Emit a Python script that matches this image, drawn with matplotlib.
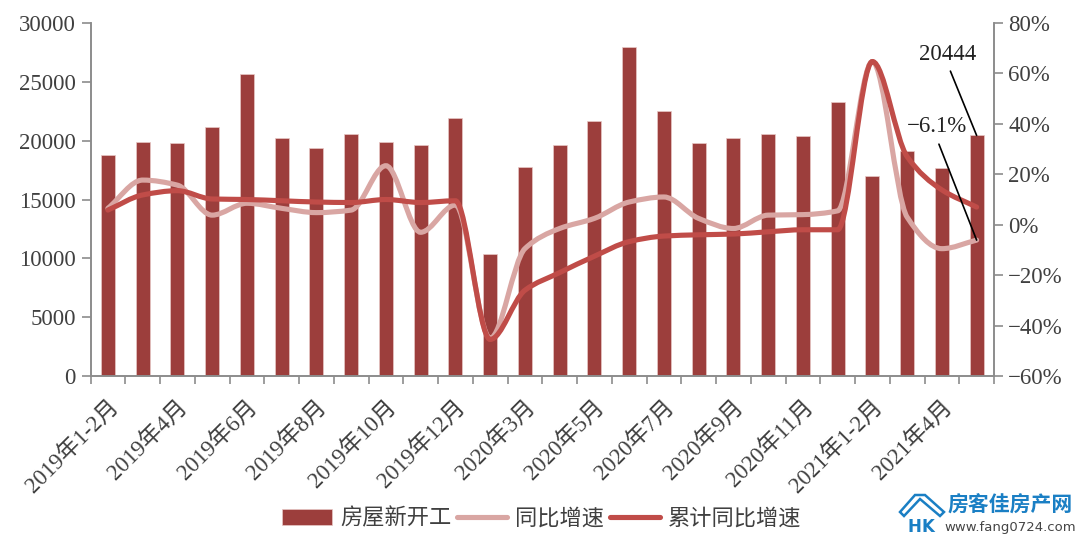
import matplotlib
matplotlib.use("Agg")
import matplotlib.pyplot as plt
from matplotlib.lines import Line2D
from matplotlib.patches import Patch, PathPatch, Polygon
from matplotlib.path import Path
from matplotlib.transforms import ScaledTranslation

plt.rcParams["font.family"] = ["Liberation Serif", "Noto Sans CJK SC", "DejaVu Sans"]

months = [
    "2019年1-2月", "2019年3月", "2019年4月", "2019年5月", "2019年6月", "2019年7月",
    "2019年8月", "2019年9月", "2019年10月", "2019年11月", "2019年12月",
    "2020年1-2月", "2020年3月", "2020年4月", "2020年5月", "2020年6月", "2020年7月",
    "2020年8月", "2020年9月", "2020年10月", "2020年11月", "2020年12月",
    "2021年1-2月", "2021年3月", "2021年4月", "2021年5月",
]
new_starts = [
    18800, 19900, 19800, 21200, 25700, 20200, 19400, 20600, 19900, 19600, 21900,
    10400, 17800, 19600, 21700, 28000, 22500, 19800, 20200, 20600, 20400, 23300,
    17000, 19100, 17700, 20444,
]
yoy = [
    6.5, 17.7, 15.7, 3.8, 8.5, 6.5, 4.8, 5.8, 23.4, -3.0, 7.8,
    -45.0, -9.5, -1.5, 2.5, 9.0, 11.0, 2.5, -1.5, 3.8, 4.0, 5.5,
    64.7, 3.0, -9.5, -6.1,
]
cum_yoy = [
    5.8, 11.8, 13.5, 10.2, 10.0, 9.5, 9.0, 8.8, 10.0, 8.8, 9.5,
    -45.5, -26.0, -19.0, -12.5, -6.7, -4.5, -4.0, -3.7, -2.8, -2.0, -2.0,
    64.7, 27.0, 13.8, 7.0,
]

BAR = "#9c3e3c"
LIGHT = "#d9a6a3"
RED = "#c04c48"
AXIS = "#8c8c8c"
TEXT = "#404040"
BLUE = "#1a7fc4"
FS = 16.5
LW = 3.7


def px(x, y):
    # pixel position from the top left corner to figure fraction
    return x / 1080, 1 - y / 540


def smooth_path(values):
    # monotone cubic bezier through the points, no overshoot at the sharp turns
    n = len(values)
    slopes = [values[i + 1] - values[i] for i in range(n - 1)]
    tang = [slopes[0]]
    for a, b in zip(slopes[:-1], slopes[1:]):
        tang.append(2 * a * b / (a + b) if a * b > 0 else 0.0)
    tang.append(slopes[-1])
    verts = [(0, values[0])]
    codes = [Path.MOVETO]
    for i in range(n - 1):
        verts += [
            (i + 1 / 3, values[i] + tang[i] / 3),
            (i + 2 / 3, values[i + 1] - tang[i + 1] / 3),
            (i + 1, values[i + 1]),
        ]
        codes += [Path.CURVE4] * 3
    return Path(verts, codes)


fig = plt.figure(figsize=(10.8, 5.4), dpi=100)
ax = fig.add_axes([90.5 / 1080, 1 - 376 / 540, (994 - 90.5) / 1080, (376 - 23) / 540])
ax2 = ax.twinx()

x = list(range(len(months)))
ax.bar(x, new_starts, width=0.4, color=BAR, edgecolor="#e8c8c6", linewidth=0.5)
ax.set_xlim(-0.5, len(months) - 0.5)
ax.set_ylim(0, 30000)
ax.set_yticks(range(0, 30001, 5000))

ax.set_xticks([i - 0.5 for i in range(len(months) + 1)])
ax.set_xticklabels([])
ax.set_xticks(x[::2], months[::2], minor=True)
ax.tick_params(axis="x", which="major", length=6, width=1.2, color=AXIS)
ax.tick_params(axis="x", which="minor", length=0, pad=20, labelsize=FS, labelcolor=TEXT)
shift = ScaledTranslation(5 / 72, 0, fig.dpi_scale_trans)
for lab in ax.get_xticklabels(minor=True):
    lab.set_rotation(45)
    lab.set_rotation_mode("anchor")
    lab.set_ha("right")
    lab.set_va("center")
    lab.set_transform(lab.get_transform() + shift)
ax.tick_params(axis="y", length=6.5, width=1.2, color=AXIS, labelsize=FS, labelcolor=TEXT, pad=4)

ax2.set_ylim(-60, 80)
ax2.set_yticks(range(-60, 81, 20))
ax2.set_yticklabels([f"{v}%".replace("-", "−") for v in range(-60, 81, 20)])
ax2.tick_params(axis="y", length=6.5, width=1.2, color=AXIS, labelsize=FS, labelcolor=TEXT, pad=3.6)

for a in (ax, ax2):
    a.spines["top"].set_visible(False)
    for side in ("left", "right", "bottom"):
        a.spines[side].set_color(AXIS)
        a.spines[side].set_linewidth(1.2)

ax2.add_patch(PathPatch(smooth_path(yoy), fill=False, edgecolor=LIGHT, lw=LW, capstyle="round"))
ax2.add_patch(PathPatch(smooth_path(cum_yoy), fill=False, edgecolor=RED, lw=LW, capstyle="round"))

# value callouts on the latest month
last = len(months) - 1
ax.annotate(
    f"{new_starts[last]}", xy=(last, new_starts[last]), xytext=(948, 540 - 54),
    textcoords="figure pixels", ha="center", va="center", fontsize=FS, color="#222222",
    arrowprops=dict(arrowstyle="-", color="black", lw=1.2, shrinkA=3, shrinkB=0, relpos=(0.42, 0.5)),
)
ax2.annotate(
    "−6.1%", xy=(last, yoy[last]), xytext=(937, 540 - 127),
    textcoords="figure pixels", ha="center", va="center", fontsize=FS, color="#222222",
    arrowprops=dict(arrowstyle="-", color="black", lw=1.2, shrinkA=3, shrinkB=0, relpos=(0.42, 0.5)),
)

handles = [
    Patch(facecolor=BAR, edgecolor="#e8c8c6", linewidth=0.5),
    Line2D([0], [0], color=LIGHT, lw=LW, solid_capstyle="round"),
    Line2D([0], [0], color=RED, lw=LW, solid_capstyle="round"),
]
fig.legend(
    handles, ["房屋新开工", "同比增速", "累计同比增速"], loc="center", ncol=3,
    bbox_to_anchor=px(542, 519), frameon=False, fontsize=16,
    labelcolor=TEXT, handlelength=2.25, handleheight=0.7, handletextpad=0.35,
    columnspacing=0.27, borderpad=0,
)

# site mark in the lower right corner
roof = [(900, 512), (915, 495), (925, 495), (944, 512), (940, 516), (920, 499), (904, 516)]
fig.add_artist(Polygon([px(*p) for p in roof], closed=True, fill=False, edgecolor=BLUE,
                       lw=1.8, transform=fig.transFigure))
fig.text(*px(914, 527), "H", color=BLUE, fontsize=12, fontweight="bold", ha="center",
         va="center", family=["DejaVu Sans"])
fig.text(*px(928, 527), "K", color=BLUE, fontsize=12, fontweight="bold", ha="center",
         va="center", family=["DejaVu Sans"])
fig.text(*px(1010, 505), "房客佳房产网", color=BLUE, fontsize=15, fontweight="bold",
         ha="center", va="center", family=["Noto Sans CJK SC"])
fig.text(*px(1010, 527), "www.fang0724.com", color="#444444", fontsize=9.5,
         ha="center", va="center", family=["DejaVu Sans"])

fig.savefig("out.png", dpi=100)
